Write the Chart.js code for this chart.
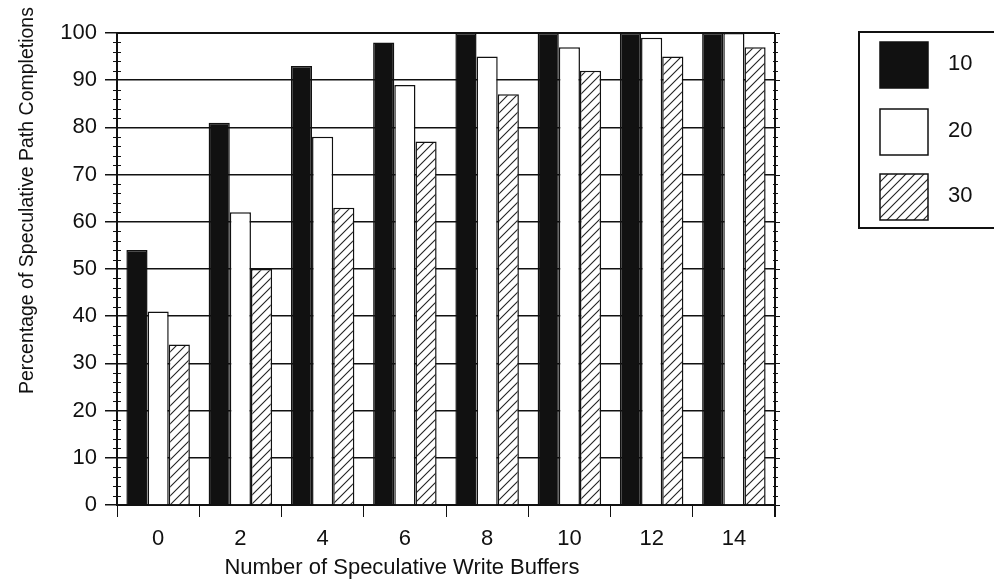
<!DOCTYPE html>
<html>
<head>
<meta charset="utf-8">
<script src="https://cdn.jsdelivr.net/npm/chart.js@4.4.1/dist/chart.umd.min.js"></script>
<style>
  html, body { margin: 0; padding: 0; background: #fff; }
  #wrap { width: 994px; height: 583px; position: relative; }
</style>
</head>
<body>
<div id="wrap"><canvas id="chart"></canvas></div>
<script>
// datos
const buffers = ['0', '2', '4', '6', '8', '10', '12', '14'];
const seriesNames = ['10', '20', '30'];
const series10 = [54, 81, 93, 98, 100, 100, 100, 100];
const series20 = [41, 62, 78, 89, 95, 97, 99, 100];
const series30 = [34, 50, 63, 77, 87, 92, 95, 97];
const yTicks = [0, 10, 20, 30, 40, 50, 60, 70, 80, 90, 100];

const INK = '#111';
const FONT = '"Liberation Sans", Arial, sans-serif';

// patron rayado para la serie 30
function makeHatch() {
    const c = document.createElement('canvas');
    c.width = 9; c.height = 9;
    const g = c.getContext('2d');
    g.fillStyle = '#fff';
    g.fillRect(0, 0, 9, 9);
    g.strokeStyle = '#222';
    g.lineWidth = 1.1;
    g.beginPath();
    g.moveTo(-1, 10); g.lineTo(10, -1);
    g.moveTo(-1, 1); g.lineTo(1, -1);
    g.moveTo(8, 10); g.lineTo(10, 8);
    g.stroke();
    return g.createPattern(c, 'repeat');
}

const ctx = document.getElementById('chart').getContext('2d');
const hatch = makeHatch();

const decor = {
    id: 'decor',
    afterDraw(chart) {
        const c = chart.ctx;
        const a = chart.chartArea;
        const y = chart.scales.y;
        c.save();
        c.strokeStyle = INK;
        c.fillStyle = INK;

        // marco superior y derecho
        c.lineWidth = 2;
        c.beginPath();
        c.moveTo(a.left, a.top); c.lineTo(a.right, a.top);
        c.moveTo(a.right, a.top); c.lineTo(a.right, a.bottom + 12);
        c.stroke();

        // marcas menores cada 2 y marcas del eje derecho
        c.lineWidth = 1;
        c.beginPath();
        for (let v = 0; v <= 100; v += 2) {
            const py = Math.round(y.getPixelForValue(v)) + 0.5;
            if (v % 10 !== 0) {
                c.moveTo(a.left - 4, py); c.lineTo(a.left + 4, py);
                c.moveTo(a.right - 2, py); c.lineTo(a.right + 3, py);
            } else {
                c.moveTo(a.right, py); c.lineTo(a.right + 5, py);
            }
        }
        c.stroke();

        // titulos de ejes
        c.textAlign = 'center';
        c.textBaseline = 'middle';
        c.font = '22px ' + FONT;
        c.fillText('Number of Speculative Write Buffers', a.left + a.width * 0.433, chart.height - 15);
        c.save();
        c.translate(28, a.top + (a.bottom - a.top) * 0.355);
        c.rotate(-Math.PI / 2);
        c.font = '19.5px ' + FONT;
        c.fillText('Percentage of Speculative Path Completions', 0, 0);
        c.restore();

        // leyenda
        const lx = a.right + 84, ly = a.top - 1;
        c.lineWidth = 2;
        c.strokeRect(lx, ly, 200, 196);
        const tops = [10, 77, 142];
        chart.data.datasets.forEach(function (ds, i) {
            const sy = ly + tops[i];
            c.fillStyle = ds.backgroundColor;
            c.fillRect(lx + 21, sy, 48, 46);
            c.lineWidth = 1.5;
            c.strokeRect(lx + 21, sy, 48, 46);
            c.fillStyle = INK;
            c.textAlign = 'left';
            c.font = '22px ' + FONT;
            c.fillText(ds.label, lx + 89, sy + 22);
        });
        c.restore();
    }
};

new Chart(ctx, {
    type: 'bar',
    data: {
        labels: buffers,
        datasets: [
            { label: seriesNames[0], data: series10, backgroundColor: INK, borderColor: INK, borderWidth: 1.5 },
            { label: seriesNames[1], data: series20, backgroundColor: '#fff', borderColor: INK, borderWidth: 1.5 },
            { label: seriesNames[2], data: series30, backgroundColor: hatch, borderColor: INK, borderWidth: 1.5 }
        ]
    },
    options: {
        responsive: true,
        maintainAspectRatio: false,
        animation: false,
        layout: { padding: { top: 33, right: 219, left: 0, bottom: 0 } },
        datasets: { bar: { barPercentage: 1, categoryPercentage: 0.772 } },
        plugins: {
            legend: { display: false },
            tooltip: { enabled: false }
        },
        scales: {
            x: {
                afterFit: function (s) { s.height = 78; },
                grid: { display: true, drawOnChartArea: false, drawTicks: true, tickLength: 12, color: INK, offset: true },
                border: { display: true, color: INK, width: 2 },
                ticks: { color: INK, font: { size: 22, family: FONT }, padding: 9 }
            },
            y: {
                min: 0,
                max: 100,
                afterFit: function (s) { s.width = 117; },
                afterBuildTicks: function (s) { s.ticks = yTicks.map(function (v) { return { value: v }; }); },
                grid: { color: INK, lineWidth: 1.5, tickLength: 12, drawTicks: true },
                border: { display: true, color: INK, width: 2 },
                ticks: { color: INK, font: { size: 22, family: FONT }, padding: 8 }
            }
        }
    },
    plugins: [decor]
});
</script>
</body>
</html>
